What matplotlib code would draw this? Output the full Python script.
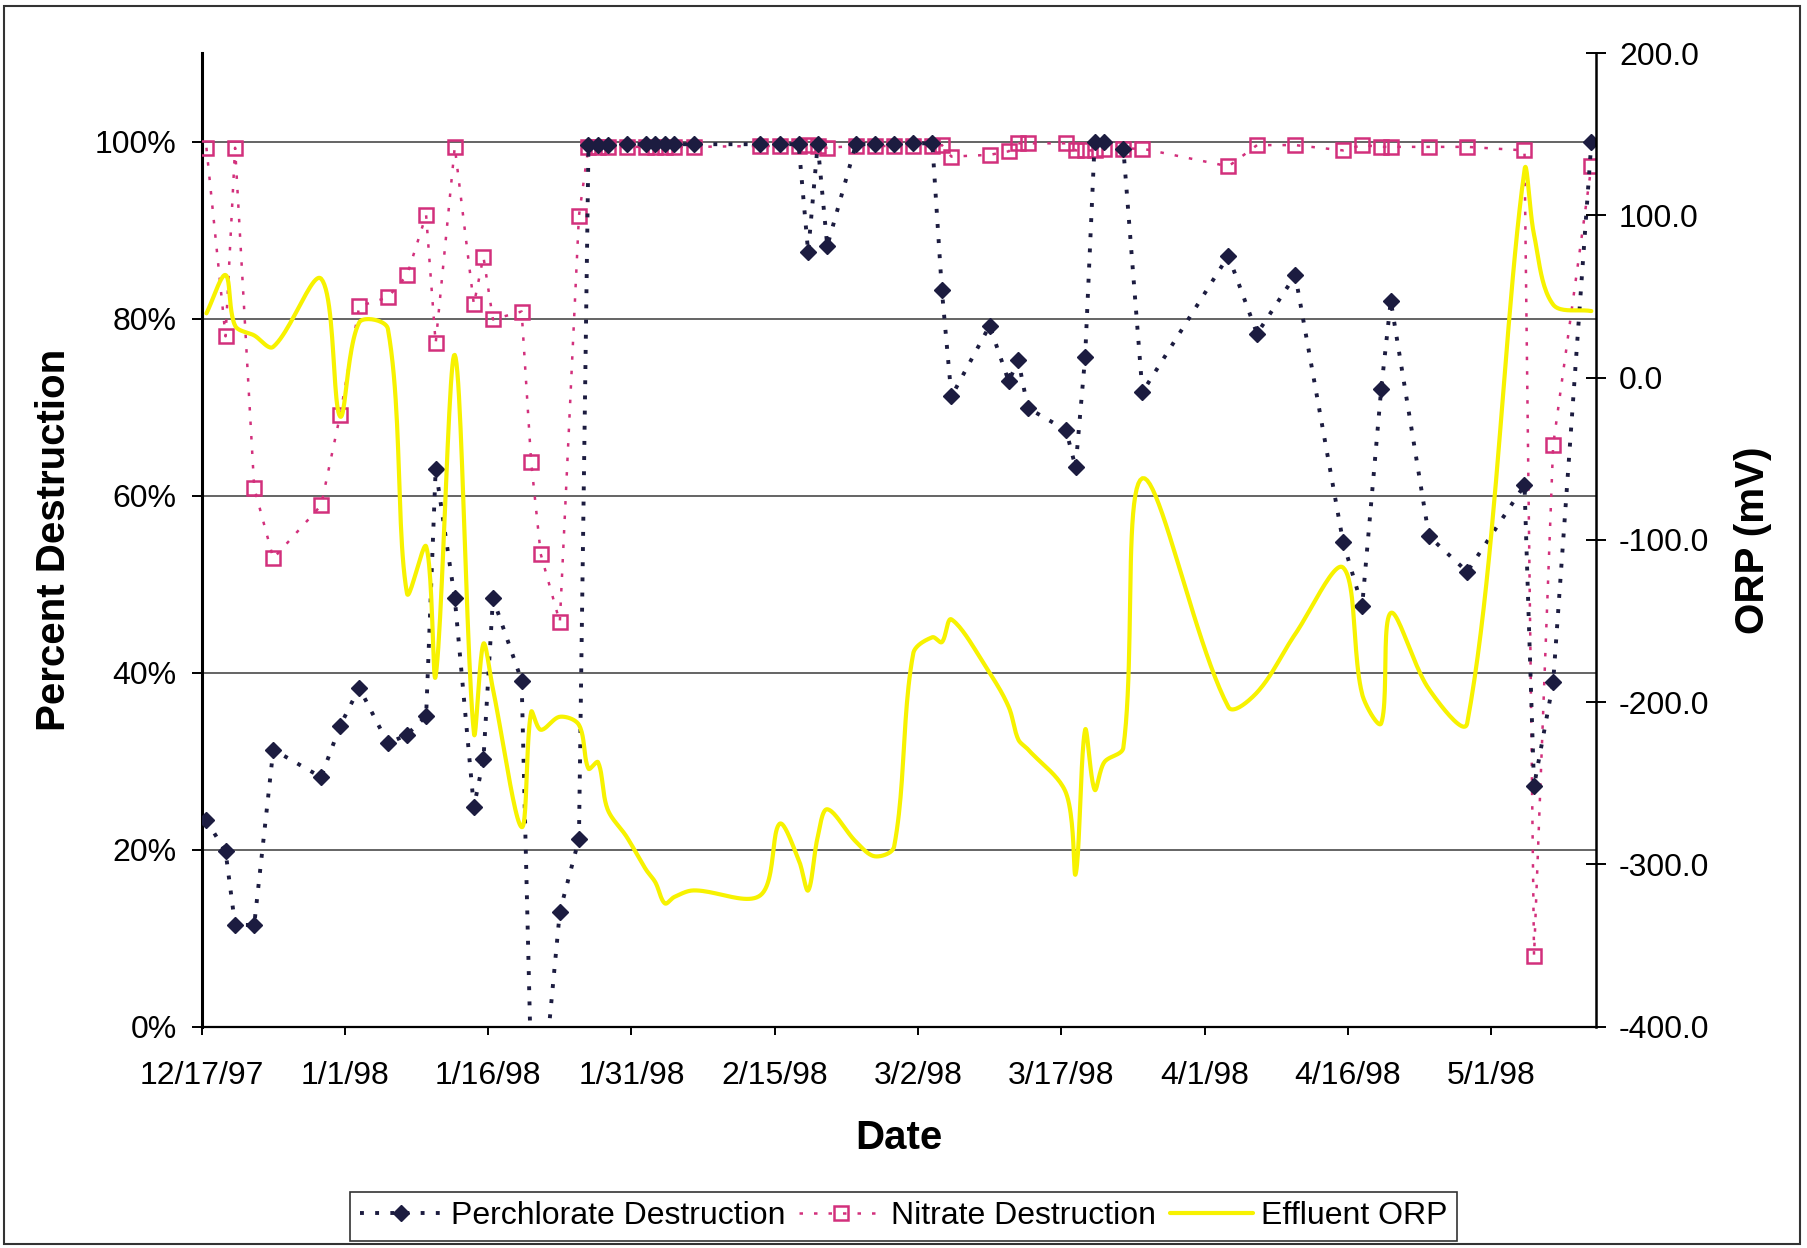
import numpy as np
import pandas as pd
import matplotlib
matplotlib.use("Agg")
import matplotlib.pyplot as plt
import matplotlib.dates as mdates
from matplotlib.ticker import PercentFormatter, FormatStrFormatter, FixedLocator
from matplotlib.patches import Rectangle

plt.rcParams['font.family'] = ['Liberation Sans', 'DejaVu Sans']

# sampling dates
dates = [
    '1997-12-17', '1997-12-19', '1997-12-20', '1997-12-22', '1997-12-24', '1997-12-29',
    '1997-12-31', '1998-01-02', '1998-01-05', '1998-01-07', '1998-01-09', '1998-01-10',
    '1998-01-12', '1998-01-14', '1998-01-15', '1998-01-16', '1998-01-19', '1998-01-20',
    '1998-01-21', '1998-01-23', '1998-01-25',
    '1998-01-26', '1998-01-27', '1998-01-28', '1998-01-30', '1998-02-01', '1998-02-02',
    '1998-02-03', '1998-02-04', '1998-02-06',
    '1998-02-13', '1998-02-15', '1998-02-17', '1998-02-18', '1998-02-19', '1998-02-20',
    '1998-02-23', '1998-02-25', '1998-02-27', '1998-03-01', '1998-03-03', '1998-03-04',
    '1998-03-05',
    '1998-03-09', '1998-03-11', '1998-03-12', '1998-03-13', '1998-03-17', '1998-03-18',
    '1998-03-19', '1998-03-20', '1998-03-21', '1998-03-23', '1998-03-25',
    '1998-04-03', '1998-04-06', '1998-04-10', '1998-04-15', '1998-04-17', '1998-04-19',
    '1998-04-20', '1998-04-24', '1998-04-28', '1998-05-04', '1998-05-05', '1998-05-07',
    '1998-05-11',
]

# percent destruction
perchlorate = [
    23.3, 19.8, 11.5, 11.5, 31.3, 28.2, 34.0, 38.3, 32.0, 33.0, 35.1, 63.0,
    48.4, 24.8, 30.2, 48.4, 39.1, -5.0, -10.0, 13.0, 21.2,
    99.6, 99.6, 99.6, 99.7, 99.7, 99.7, 99.7, 99.7, 99.7,
    99.7, 99.7, 99.7, 87.5, 99.7, 88.2, 99.7, 99.7, 99.7, 99.8, 99.8, 83.2, 71.2,
    79.2, 72.9, 75.3, 69.9, 67.4, 63.2, 75.7, 100.0, 100.0, 99.2, 71.7,
    87.1, 78.3, 84.9, 54.8, 47.5, 72.1, 82.0, 55.4, 51.4, 61.2, 27.2, 38.9, 99.9,
]
nitrate = [
    99.3, 78.0, 99.3, 60.9, 52.9, 58.9, 69.1, 81.4, 82.4, 84.9, 91.7, 77.2,
    99.4, 81.6, 87.0, 79.9, 80.8, 63.8, 53.4, 45.7, 91.6,
    99.4, 99.4, 99.4, 99.4, 99.4, 99.4, 99.4, 99.4, 99.4,
    99.5, 99.5, 99.5, 99.6, 99.5, 99.3, 99.5, 99.5, 99.5, 99.5, 99.5, 99.6, 98.3,
    98.5, 98.9, 99.8, 99.8, 99.8, 99.0, 99.0, 99.0, 99.2, 99.2, 99.2,
    97.2, 99.6, 99.6, 99.0, 99.6, 99.4, 99.4, 99.4, 99.4, 99.0, 8.0, 65.7, 97.2,
]
# effluent ORP, mV
orp = [
    39.6, 63.2, 32, 26, 19, 61, -24, 34, 30, -133, -104, -184,
    14, -219, -164, -192, -277, -206, -217, -209, -214,
    -241, -237, -266, -283, -303, -311, -324, -320, -316,
    -319, -275, -297, -316, -283, -266, -286, -295, -289, -170, -160, -163, -149,
    -182, -203, -223, -229, -256, -306, -217, -254, -237, -228, -62,
    -203, -194, -158, -117, -195, -213, -145, -192, -213, 128, 88, 45, 41,
]

tick_dates = pd.date_range('1997-12-17', periods=10, freq='15D')


def smooth_curve(x, y, kx, ky, n=24):
    # cubic bezier through the points; tangents follow the neighbours and are
    # split by chord length (worked out in screen units kx, ky per data unit)
    p = np.column_stack([np.asarray(x, float) * kx, np.asarray(y, float) * ky])
    m = len(p)
    c_out = np.zeros_like(p)
    c_in = np.zeros_like(p)
    for i in range(m):
        prev = p[max(i - 1, 0)]
        nxt = p[min(i + 1, m - 1)]
        d0 = np.hypot(*(p[i] - prev))
        d1 = np.hypot(*(nxt - p[i]))
        tang = nxt - prev
        tot = d0 + d1 if d0 + d1 > 0 else 1.0
        c_out[i] = p[i] + tang * d1 / tot / 3.0
        c_in[i] = p[i] - tang * d0 / tot / 3.0
    t = np.linspace(0, 1, n)[:, None]
    parts = []
    for i in range(m - 1):
        p1, b1, b2, p2 = p[i], c_out[i], c_in[i + 1], p[i + 1]
        seg = (1 - t) ** 3 * p1 + 3 * (1 - t) ** 2 * t * b1 + 3 * (1 - t) * t ** 2 * b2 + t ** 3 * p2
        parts.append(seg if i == 0 else seg[1:])
    out = np.vstack(parts)
    return out[:, 0] / kx, out[:, 1] / ky


# points sit in the middle of each day
x = mdates.date2num(pd.to_datetime(dates).to_pydatetime()) + 0.5

fig = plt.figure(figsize=(18.07, 12.48), dpi=100)
ax = fig.add_axes([0.1116, 0.1773, 0.7717, 0.7802])
ax2 = ax.twinx()

perch_col = '#1c1c40'
nit_col = '#d2307c'
orp_col = '#f7f200'

ln_nit, = ax.plot(x, nitrate, color=nit_col, lw=1.8, linestyle=(0, (1.4, 4.4)),
                  marker='s', ms=9.5, mfc='none', mec=nit_col, mew=1.8, zorder=3)
ln_per, = ax.plot(x, perchlorate, color=perch_col, lw=2.8, linestyle=(0, (1.0, 2.9)),
                  marker='D', ms=8.5, mfc=perch_col, mec=perch_col, zorder=4)

# screen pixels per day and per mV
sx, sy = smooth_curve(x, orp, 9.55, 1.624)
ln_orp, = ax2.plot(sx, sy, color=orp_col, lw=3, solid_capstyle='round', zorder=5)

# left axis
ax.set_ylim(0, 110)
ax.yaxis.set_major_locator(FixedLocator([0, 20, 40, 60, 80, 100]))
ax.yaxis.set_major_formatter(PercentFormatter(100, decimals=0))
ax.grid(axis='y', color='#4a4a4a', lw=1.2)
ax.set_axisbelow(True)

# dates
ax.set_xlim(mdates.date2num(pd.Timestamp('1997-12-17').to_pydatetime()),
            mdates.date2num(pd.Timestamp('1998-05-12').to_pydatetime()))
ax.set_xticks(mdates.date2num(tick_dates.to_pydatetime()))
ax.set_xticklabels([f"{d.month}/{d.day}/{d:%y}" for d in tick_dates])

# right axis
ax2.set_ylim(-400, 200)
ax2.yaxis.set_major_locator(FixedLocator([-400, -300, -200, -100, 0, 100, 200]))
ax2.yaxis.set_major_formatter(FormatStrFormatter('%.1f'))

for a in (ax, ax2):
    a.spines['top'].set_visible(False)
ax.spines['left'].set_linewidth(2.2)
ax.spines['bottom'].set_linewidth(1.6)
ax.spines['right'].set_visible(False)
ax2.spines['left'].set_visible(False)
ax2.spines['bottom'].set_visible(False)
ax2.spines['right'].set_linewidth(1.8)

ax.tick_params(axis='y', direction='out', length=7, width=1.4, pad=11, labelsize=23)
ax.tick_params(axis='x', direction='out', length=6, width=1.4, pad=19, labelsize=23)
ax2.tick_params(axis='y', direction='inout', length=14, width=1.4, pad=9.5, labelsize=23)

ax.set_xlabel('Date', fontsize=29, fontweight='bold')
ax.xaxis.set_label_coords(0.5, -0.095)
ax.set_ylabel('Percent Destruction', fontsize=29, fontweight='bold')
ax.yaxis.set_label_coords(-0.0926, 0.5)
ax2.set_ylabel('ORP (mV)', fontsize=29, fontweight='bold')
ax2.yaxis.set_label_coords(1.099, 0.5)

leg = fig.legend([ln_per, ln_nit, ln_orp],
                 ['Perchlorate Destruction', 'Nitrate Destruction', 'Effluent ORP'],
                 loc='center', bbox_to_anchor=(0.5, 0.0254), ncol=3, fontsize=23,
                 frameon=True, fancybox=False, edgecolor='black', handlelength=2.6,
                 handletextpad=0.25, columnspacing=0.45, borderpad=0.3, numpoints=1)
leg.get_frame().set_linewidth(1.2)

# outer chart border
fig.patches.append(Rectangle((0.002, 0.003), 0.994, 0.9925, transform=fig.transFigure,
                             fill=False, ec='#333333', lw=1.5))

fig.savefig('out.png', dpi=100)
